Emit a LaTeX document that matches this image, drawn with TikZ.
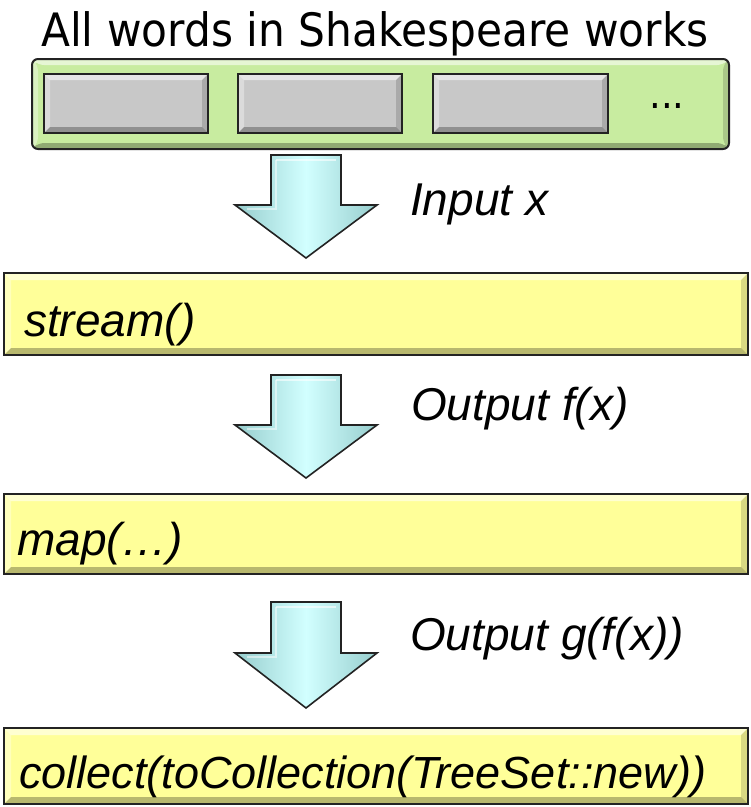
\documentclass[tikz,border=0pt]{standalone}
\usepackage{fontspec}
\setmainfont{Liberation Sans}
\newfontfamily\titlefont[FakeStretch=0.92]{DejaVu Sans}
\usetikzlibrary{calc}
\definecolor{boxyellow}{RGB}{255,255,153}
\definecolor{boxgreen}{RGB}{200,236,160}
\definecolor{boxgray}{RGB}{200,200,200}
\definecolor{arrowcyan}{RGB}{210,255,255}
\definecolor{arrowedge}{RGB}{150,205,205}
\definecolor{edgecol}{RGB}{35,35,35}
\tikzset{
  bevel/.style={path picture={
    \fill[white,opacity=0.55] (path picture bounding box.north west) -- (path picture bounding box.north east)
      -- ([xshift=-#1,yshift=-#1]path picture bounding box.north east) -- ([xshift=#1,yshift=-#1]path picture bounding box.north west) -- cycle;
    \fill[white,opacity=0.35] (path picture bounding box.north west) -- (path picture bounding box.south west)
      -- ([xshift=#1,yshift=#1]path picture bounding box.south west) -- ([xshift=#1,yshift=-#1]path picture bounding box.north west) -- cycle;
    \fill[black,opacity=0.28] (path picture bounding box.south west) -- (path picture bounding box.south east)
      -- ([xshift=-#1,yshift=#1]path picture bounding box.south east) -- ([xshift=#1,yshift=#1]path picture bounding box.south west) -- cycle;
    \fill[black,opacity=0.15] (path picture bounding box.north east) -- (path picture bounding box.south east)
      -- ([xshift=-#1,yshift=#1]path picture bounding box.south east) -- ([xshift=-#1,yshift=-#1]path picture bounding box.north east) -- cycle;
  }},
  ybox/.style={draw=edgecol, line width=2pt, fill=boxyellow, bevel=7pt, anchor=north west, inner sep=0pt},
  gbox/.style={draw=edgecol, line width=2pt, fill=boxgray, bevel=6pt, anchor=north west, inner sep=0pt},
  greenbox/.style={draw=edgecol, line width=2pt, fill=boxgreen, rounded corners=6pt, bevel=6pt, anchor=north west, inner sep=0pt},
  lab/.style={font=\fontsize{46}{54}\selectfont\itshape, anchor=base west, inner sep=0pt},
  blockarrow/.style={draw=edgecol, line width=1.6pt, line join=miter, left color=arrowedge, right color=arrowedge, middle color=arrowcyan},
}
\newcommand\blkarrow[3]{%
  \draw[blockarrow] (271,#1) -- (341,#1) -- (341,#2) -- (377,#2) -- (306,#3) -- (235,#2) -- (271,#2) -- cycle;
  \draw[white,opacity=0.6,line width=1.2pt] (276,#1+5) -- (336,#1+5);
  \draw[white,opacity=0.5,line width=1.2pt] (276,#1+5) -- (276,#2+4) -- (247,#2+4);
}
\begin{document}
\begin{tikzpicture}[x=1pt,y=-1pt]
\useasboundingbox (0,0) rectangle (751,807);
% title
\node[font=\titlefont\fontsize{46}{54}\selectfont, anchor=base, inner sep=0pt] (title) at (375,46) {All words in Shakespeare works};
% green container
\node[greenbox, minimum width=697pt, minimum height=90pt] (words) at (31,58) {};
\node[gbox, minimum width=164pt, minimum height=59pt] (w1) at (43,73) {};
\node[gbox, minimum width=164pt, minimum height=59pt] (w2) at (237,73) {};
\node[gbox, minimum width=175pt, minimum height=59pt] (w3) at (432,73) {};
\node[font=\titlefont\fontsize{40}{44}\selectfont, anchor=base, inner sep=0pt] (dots) at (667,108) {...};
% arrow 1
\blkarrow{155}{205}{258}
\node[lab] (inx) at (410,215) {Input x};
% stream box
\node[ybox, minimum width=744pt, minimum height=82pt] (stream) at (3,272) {};
\node[lab] (streamt) at (24,336) {stream()};
% arrow 2
\blkarrow{375}{425}{478}
\node[lab] (outf) at (411,420) {Output f(x)};
% map box
\node[ybox, minimum width=744pt, minimum height=80pt] (map) at (3,493) {};
\node[lab] (mapt) at (17,555) {map(…)};
% arrow 3
\blkarrow{602}{653}{708}
\node[lab] (outg) at (410,650) {Output g(f(x))};
% collect box
\node[ybox, minimum width=744pt, minimum height=76pt] (collect) at (3,727) {};
\node[lab, font=\fontsize{45}{54}\selectfont\itshape] (collectt) at (19,788) {collect(toCollection(TreeSet::new))};
\end{tikzpicture}
\end{document}
